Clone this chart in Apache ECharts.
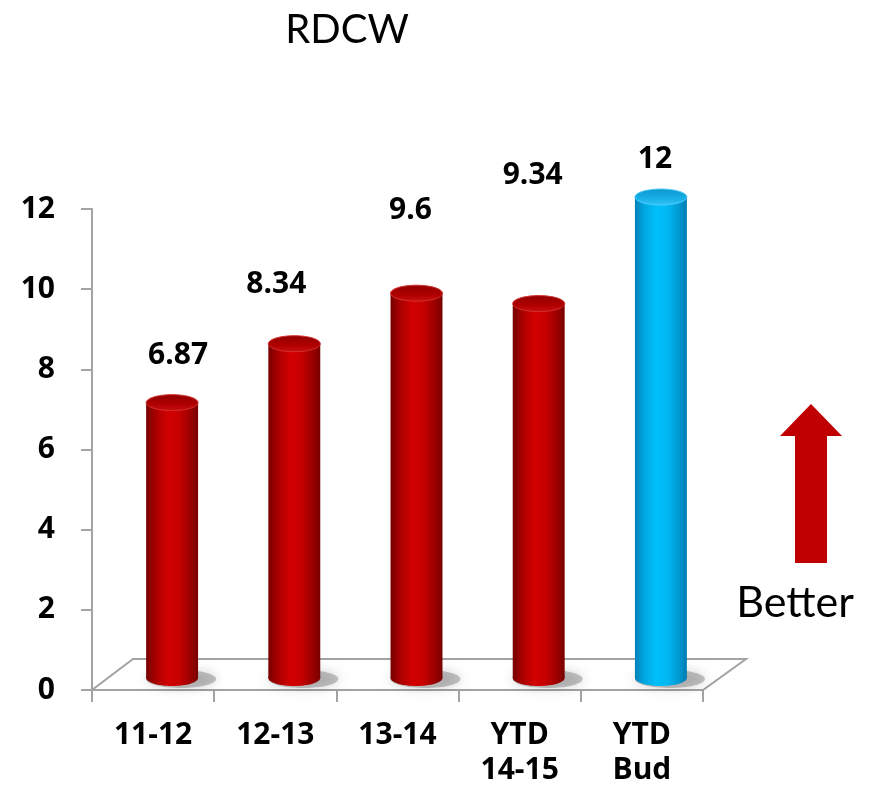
<!DOCTYPE html>
<html>
<head>
<meta charset="utf-8">
<script src="https://cdn.jsdelivr.net/npm/echarts@6/dist/echarts.min.js"></script>
<style>
  html, body { margin: 0; padding: 0; background: #fff; }
  #chart { width: 869px; height: 798px; }
</style>
</head>
<body>
<div id="chart"></div>
<script>
// RDCW by year, with the year-to-date budget shown in blue
const categories = ['11-12', '12-13', '13-14', 'YTD\n14-15', 'YTD\nBud'];
const values = [6.87, 8.34, 9.6, 9.34, 12];
const barKinds = ['actual', 'actual', 'actual', 'actual', 'budget'];
const yMin = 0;
const yMax = 12;
const yStep = 2;

// where each value label sits relative to the top of its cylinder
const labelShift = [[6, -47], [-18, -59], [-6, -83], [-6, -128], [-6, -38]];

const FONT = 'Lato, "Open Sans", sans-serif';
const BOLD_FONT = '"Open Sans", Lato, sans-serif';
const AXIS_GREY = '#a3a3a3';
const DEPTH_X = 41, DEPTH_Y = -31;      // back edge of the floor
const BAR_X = 19, BAR_Y = -12;          // cylinders stand mid-way across the floor

const palettes = {
  actual: {
    body: [[0, '#760000'], [0.18, '#a80000'], [0.42, '#d20000'], [0.62, '#c80000'], [0.85, '#9c0000'], [1, '#780000']],
    top: [[0, '#900000'], [0.6, '#b00000'], [1, '#c81010']],
    rim: '#d43030'
  },
  budget: {
    body: [[0, '#0082b8'], [0.18, '#00a6e0'], [0.42, '#00c0fa'], [0.62, '#00b8f2'], [0.85, '#0098d0'], [1, '#007cb0']],
    top: [[0, '#0a96cc'], [0.6, '#18b0e8'], [1, '#34c4f8']],
    rim: '#50ccff'
  }
};

function grad(stops, vertical) {
  return new echarts.graphic.LinearGradient(0, 0, vertical ? 0 : 1, vertical ? 1 : 0,
    stops.map(s => ({ offset: s[0], color: s[1] })));
}

function renderFloor(params) {
  const cs = params.coordSys;
  const x0 = cs.x, x1 = cs.x + cs.width, y0 = cs.y + cs.height;
  return {
    type: 'polygon',
    shape: { points: [[x0, y0], [x1, y0], [x1 + DEPTH_X + 2, y0 + DEPTH_Y], [x0 + DEPTH_X, y0 + DEPTH_Y]] },
    style: { fill: '#ffffff', stroke: AXIS_GREY, lineWidth: 2 }
  };
}

function renderBar(params, api) {
  const i = api.value(0);
  const v = api.value(1);
  const top = api.coord([i, v]);
  const base = api.coord([i, 0]);
  const cx = top[0] + BAR_X;
  const topY = top[1] + BAR_Y;
  const baseY = base[1] + BAR_Y;
  const w = api.size([1, 0])[0] * 0.425;
  const rx = w / 2, ry = 8;
  const pal = palettes[barKinds[i]];
  const shift = labelShift[i];
  return {
    type: 'group',
    children: [
      {
        type: 'ellipse',
        shape: { cx: cx + 9, cy: baseY + 1, rx: rx + 9, ry: ry + 1 },
        style: { fill: 'rgba(110,110,110,0.4)', shadowBlur: 12, shadowColor: 'rgba(0,0,0,0.45)' }
      },
      {
        type: 'ellipse',
        shape: { cx: cx, cy: baseY, rx: rx, ry: ry },
        style: { fill: grad(pal.body, false) }
      },
      {
        type: 'rect',
        shape: { x: cx - rx, y: topY, width: w, height: baseY - topY },
        style: { fill: grad(pal.body, false) }
      },
      {
        type: 'ellipse',
        shape: { cx: cx, cy: topY, rx: rx, ry: ry },
        style: { fill: grad(pal.top, true), stroke: pal.rim, lineWidth: 1 }
      },
      {
        type: 'text',
        x: cx + shift[0],
        y: topY + shift[1],
        style: {
          text: String(v),
          fill: '#000',
          font: 'bold 30px ' + BOLD_FONT,
          align: 'center', verticalAlign: 'middle',
          textAlign: 'center', textVerticalAlign: 'middle'
        }
      }
    ]
  };
}

const chart = echarts.init(document.getElementById('chart'), null, { renderer: 'canvas' });

chart.setOption({
  animation: false,
  backgroundColor: '#ffffff',
  grid: { left: 92, right: 166, top: 209, bottom: 108, containLabel: false },
  graphic: [
    {
      type: 'text', x: 347, y: 30, z: 10,
      style: { text: 'RDCW', fill: '#000', font: '40px ' + FONT, align: 'center', verticalAlign: 'middle', textAlign: 'center', textVerticalAlign: 'middle' }
    },
    {
      type: 'polygon', z: 10,
      shape: { points: [[780, 436], [811, 404], [842, 436], [827, 436], [827, 563], [795, 563], [795, 436]] },
      style: { fill: '#c00000' }
    },
    {
      type: 'text', x: 795, y: 603, z: 10,
      style: { text: 'Better', fill: '#000', font: '43px ' + FONT, align: 'center', verticalAlign: 'middle', textAlign: 'center', textVerticalAlign: 'middle' }
    }
  ],
  xAxis: {
    type: 'category',
    data: categories,
    boundaryGap: true,
    axisLine: { lineStyle: { color: AXIS_GREY, width: 2 } },
    axisTick: { show: true, alignWithLabel: false, length: 12, lineStyle: { color: AXIS_GREY, width: 2 } },
    axisLabel: {
      margin: 28, color: '#000', fontFamily: BOLD_FONT, fontWeight: 'bold', fontSize: 30, lineHeight: 35,
      interval: 0
    },
    splitLine: { show: false }
  },
  yAxis: {
    type: 'value',
    min: yMin, max: yMax, interval: yStep,
    axisLine: { show: true, lineStyle: { color: AXIS_GREY, width: 2 } },
    axisTick: { show: true, length: 11, lineStyle: { color: AXIS_GREY, width: 2 } },
    axisLabel: { margin: 37, color: '#000', fontFamily: BOLD_FONT, fontWeight: 'bold', fontSize: 30 },
    splitLine: { show: false }
  },
  series: [
    {
      type: 'custom',
      name: 'floor',
      z: 1,
      silent: true,
      data: [[0, 0]],
      renderItem: renderFloor
    },
    {
      type: 'custom',
      name: 'RDCW',
      z: 3,
      data: values.map((v, i) => [i, v]),
      encode: { x: 0, y: 1 },
      renderItem: renderBar
    }
  ]
});
</script>
</body>
</html>
